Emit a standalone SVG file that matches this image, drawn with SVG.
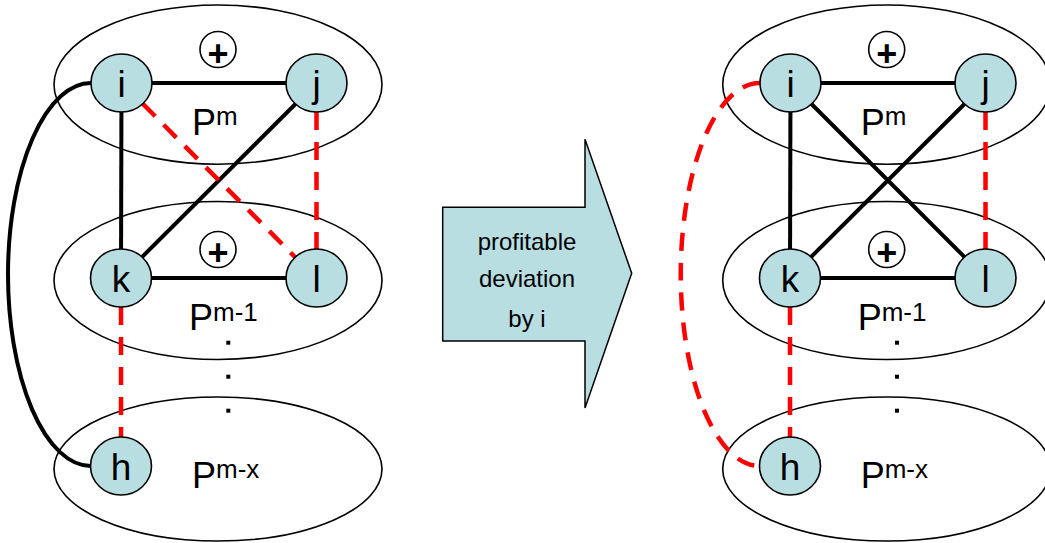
<svg xmlns="http://www.w3.org/2000/svg" width="1045" height="543" viewBox="0 0 1045 543">
<style>
.part{fill:none;stroke:#000;stroke-width:1.6}
.node{fill:#b8dee2;stroke:#000;stroke-width:1.6}
.lbl{font-family:"Liberation Sans",Arial,sans-serif;font-size:37px;text-anchor:middle;fill:#000}
.pl{font-family:"Liberation Sans",Arial,sans-serif;font-size:36px;font-weight:bold;text-anchor:middle;fill:#000}
.pc{fill:#fff;stroke:#000;stroke-width:1.6}
.pt{font-family:"Liberation Sans",Arial,sans-serif;font-size:36px;fill:#000}
.sup{font-size:26px}
.dot{fill:#000}
.solid{fill:none;stroke:#000;stroke-width:4}
.dash{fill:none;stroke:#ff0000;stroke-width:4.5;stroke-dasharray:18 12}
.atx{font-family:"Liberation Sans",Arial,sans-serif;font-size:24px;text-anchor:middle;fill:#000}
</style>
<rect width="1045" height="543" fill="#fff"/>

<!-- partitions left -->
<g id="left-Pm">
<ellipse class="part" cx="218" cy="84.6" rx="164" ry="79.6"/>
<circle class="pc" cx="218" cy="49.5" r="18"/>
<text class="pl" x="218" y="65.5">+</text>
<text class="pt" x="192" y="135">P<tspan class="sup" dy="-10">m</tspan></text>
</g>
<g id="left-Pm1">
<ellipse class="part" cx="218" cy="280.5" rx="164" ry="79"/>
<circle class="pc" cx="218" cy="249.5" r="18"/>
<text class="pl" x="218" y="264.5">+</text>
<text class="pt" x="189" y="330">P<tspan class="sup" dy="-9.3">m-1</tspan></text>
</g>
<g id="left-Pmx">
<ellipse class="part" cx="218" cy="469" rx="164" ry="72"/>
<text class="pt" x="192" y="488.3">P<tspan class="sup" dy="-10.6">m-x</tspan></text>
</g>
<g id="left-dots">
<rect class="dot" x="226.3" y="340.7" width="4" height="4"/>
<rect class="dot" x="226.3" y="374.7" width="4" height="4"/>
<rect class="dot" x="226.3" y="408.7" width="4" height="4"/>
</g>

<!-- partitions right -->
<g id="right-Pm">
<ellipse class="part" cx="886.7" cy="84.6" rx="164" ry="79.6"/>
<circle class="pc" cx="886.7" cy="49.5" r="18"/>
<text class="pl" x="886.7" y="65.5">+</text>
<text class="pt" x="860.7" y="135">P<tspan class="sup" dy="-10">m</tspan></text>
</g>
<g id="right-Pm1">
<ellipse class="part" cx="886.7" cy="280.5" rx="164" ry="79"/>
<circle class="pc" cx="886.7" cy="249.5" r="18"/>
<text class="pl" x="886.7" y="264.5">+</text>
<text class="pt" x="857.7" y="330">P<tspan class="sup" dy="-9.3">m-1</tspan></text>
</g>
<g id="right-Pmx">
<ellipse class="part" cx="886.7" cy="469" rx="164" ry="72"/>
<text class="pt" x="860.7" y="488.3">P<tspan class="sup" dy="-10.6">m-x</tspan></text>
</g>
<g id="right-dots">
<rect class="dot" x="895" y="340.7" width="4" height="4"/>
<rect class="dot" x="895" y="374.7" width="4" height="4"/>
<rect class="dot" x="895" y="408.7" width="4" height="4"/>
</g>

<!-- arrow -->
<g id="arrow">
<polygon points="442.7,207.3 585,207.3 585,139.3 631.7,273.3 585,408 585,341 442.7,341" fill="#b8dee2" stroke="#000" stroke-width="1.5"/>
<text class="atx" x="527" y="250">profitable</text>
<text class="atx" x="527" y="286.7">deviation</text>
<text class="atx" x="527" y="326.7">by i</text>
</g>

<!-- connectors -->
<g id="connectors">
<line class="solid" x1="121.5" y1="83" x2="316.5" y2="83"/>
<line class="solid" x1="121.5" y1="83" x2="121" y2="278"/>
<line class="solid" x1="316.5" y1="83" x2="121" y2="278"/>
<line class="solid" x1="121" y1="278" x2="316.5" y2="278"/>
<line class="dash" x1="142.5" y1="103.5" x2="295.5" y2="257.5"/>
<line class="dash" x1="316.5" y1="112" x2="316.5" y2="249"/>
<line class="dash" x1="121" y1="307" x2="121" y2="437"/>
<path class="solid" d="M 91.5 83 A 83 191.5 0 0 0 90.5 466"/>

<line class="solid" x1="790.5" y1="83" x2="985.5" y2="83"/>
<line class="solid" x1="790.5" y1="83" x2="790" y2="278"/>
<line class="solid" x1="985.5" y1="83" x2="790" y2="278"/>
<line class="solid" x1="790" y1="278" x2="985.5" y2="278"/>
<line class="solid" x1="790.5" y1="83" x2="985.5" y2="278"/>
<line class="dash" x1="985.5" y1="112" x2="985.5" y2="249"/>
<line class="dash" x1="790" y1="307" x2="790" y2="437"/>
<path class="dash" d="M 760 83 A 79 191.5 0 0 0 759.5 466"/>
</g>

<!-- nodes left -->
<g id="L-i"><ellipse class="node" cx="121.5" cy="83" rx="30.5" ry="29"/><text class="lbl" x="121.5" y="97">i</text></g>
<g id="L-j"><ellipse class="node" cx="316.5" cy="83" rx="30.5" ry="29"/><text class="lbl" x="316.5" y="97">j</text></g>
<g id="L-k"><ellipse class="node" cx="121" cy="278" rx="30.5" ry="29"/><text class="lbl" x="121" y="292">k</text></g>
<g id="L-l"><ellipse class="node" cx="316.5" cy="278" rx="30.5" ry="29"/><text class="lbl" x="316.5" y="292">l</text></g>
<g id="L-h"><ellipse class="node" cx="121" cy="466" rx="30.5" ry="29"/><text class="lbl" x="121" y="480">h</text></g>

<!-- nodes right -->
<g id="R-i"><ellipse class="node" cx="790.5" cy="83" rx="30.5" ry="29"/><text class="lbl" x="790.5" y="97">i</text></g>
<g id="R-j"><ellipse class="node" cx="985.5" cy="83" rx="30.5" ry="29"/><text class="lbl" x="985.5" y="97">j</text></g>
<g id="R-k"><ellipse class="node" cx="790" cy="278" rx="30.5" ry="29"/><text class="lbl" x="790" y="292">k</text></g>
<g id="R-l"><ellipse class="node" cx="985.5" cy="278" rx="30.5" ry="29"/><text class="lbl" x="985.5" y="292">l</text></g>
<g id="R-h"><ellipse class="node" cx="790" cy="466" rx="30.5" ry="29"/><text class="lbl" x="790" y="480">h</text></g>
</svg>
